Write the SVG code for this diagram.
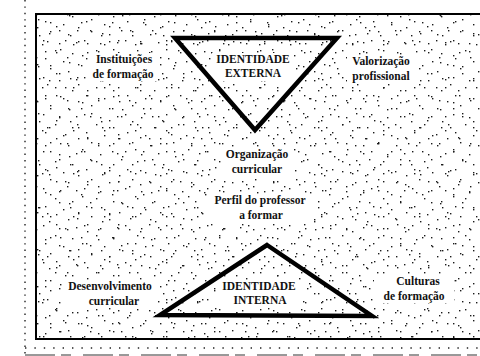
<svg xmlns="http://www.w3.org/2000/svg" width="480" height="356" viewBox="0 0 480 356">
<defs>
<pattern id="s1" x="0" y="0" width="41" height="37" patternUnits="userSpaceOnUse">
<g fill="#1a1a1a">
<rect x="2" y="3" width="1.4" height="1.4"/><rect x="18" y="6" width="1.4" height="1.4"/><rect x="35" y="5" width="1.4" height="1.4"/>
<rect x="14" y="13" width="1.4" height="1.4"/><rect x="31" y="16" width="1.4" height="1.4"/><rect x="4" y="21" width="1.4" height="1.4"/>
<rect x="22" y="24" width="1.4" height="1.4"/><rect x="37" y="27" width="1.4" height="1.4"/><rect x="9" y="31" width="1.4" height="1.4"/>
<rect x="27" y="34" width="1.4" height="1.4"/>
</g>
</pattern>
<pattern id="s2" x="0" y="0" width="53" height="47" patternUnits="userSpaceOnUse">
<g fill="#1a1a1a">
<rect x="7" y="2" width="1.4" height="1.4"/><rect x="29" y="8" width="1.4" height="1.4"/><rect x="45" y="4" width="1.4" height="1.4"/>
<rect x="16" y="15" width="1.4" height="1.4"/><rect x="38" y="19" width="1.4" height="1.4"/><rect x="3" y="26" width="1.4" height="1.4"/>
<rect x="24" y="30" width="1.4" height="1.4"/><rect x="49" y="33" width="1.4" height="1.4"/><rect x="12" y="40" width="1.4" height="1.4"/>
<rect x="34" y="43" width="1.4" height="1.4"/>
</g>
</pattern>
<pattern id="s3" x="0" y="0" width="31" height="43" patternUnits="userSpaceOnUse">
<g fill="#1a1a1a">
<rect x="11" y="1" width="1.4" height="1.4"/><rect x="25" y="9" width="1.4" height="1.4"/><rect x="5" y="14" width="1.4" height="1.4"/>
<rect x="19" y="22" width="1.4" height="1.4"/><rect x="28" y="30" width="1.4" height="1.4"/><rect x="8" y="35" width="1.4" height="1.4"/>
<rect x="16" y="41" width="1.4" height="1.4"/>
</g>
</pattern>
<style>
.lbl{font-family:"Liberation Serif","Times New Roman",serif;font-size:11.5px;font-weight:bold;fill:#111;text-anchor:middle}
.id{font-family:"Liberation Serif","Times New Roman",serif;font-size:11.5px;font-weight:bold;fill:#111;text-anchor:middle}
.tri{fill:none;stroke:#000;stroke-width:4.5;stroke-linejoin:miter}
.bg{fill:#fff}
</style>
</defs>
<rect width="480" height="356" fill="#fff"/>
<line x1="25" y1="0" x2="25" y2="356" stroke="#222" stroke-width="1.4" stroke-dasharray="1.4,5"/>
<line x1="25" y1="348" x2="480" y2="348" stroke="#222" stroke-width="1.4" stroke-dasharray="1.4,8"/>
<line x1="25" y1="355" x2="480" y2="355" stroke="#333" stroke-width="1" stroke-dasharray="30,6,10,12"/>
<g id="frame">
<rect x="36" y="14" width="460" height="325" fill="#fff"/>
<rect x="36" y="14" width="460" height="325" fill="url(#s1)"/>
<rect x="36" y="14" width="460" height="325" fill="url(#s2)"/>
<rect x="36" y="14" width="460" height="325" fill="url(#s3)"/>
<rect x="36" y="14" width="460" height="325" fill="none" stroke="#000" stroke-width="2"/>
</g>
<g id="connectors"></g>
<g id="identidade-externa">
<rect class="bg" x="212" y="53" width="82" height="28"/>
<polygon class="tri" points="175,38 337,38 255,130"/>
<text class="id" x="253" y="63">IDENTIDADE</text>
<text class="id" x="253" y="77">EXTERNA</text>
</g>
<g id="identidade-interna">
<rect class="bg" x="218" y="280" width="82" height="28"/>
<polygon class="tri" points="267,245 372,316 160,315"/>
<text class="id" x="259" y="290">IDENTIDADE</text>
<text class="id" x="260" y="304">INTERNA</text>
</g>
<g id="instituicoes">
<rect class="bg" x="90" y="53" width="68" height="28"/>
<text class="lbl" x="124" y="63">Instituições</text>
<text class="lbl" x="123" y="78">de formação</text>
</g>
<g id="valorizacao">
<rect class="bg" x="347" y="55" width="70" height="28"/>
<text class="lbl" x="381" y="65">Valorização</text>
<text class="lbl" x="381" y="80">profissional</text>
</g>
<g id="organizacao">
<rect class="bg" x="221" y="148" width="72" height="29"/>
<text class="lbl" x="257" y="158">Organização</text>
<text class="lbl" x="257" y="173">curricular</text>
</g>
<g id="perfil">
<rect class="bg" x="207" y="194" width="106" height="29"/>
<text class="lbl" x="260" y="204">Perfil do professor</text>
<text class="lbl" x="261" y="219">a formar</text>
</g>
<g id="desenvolvimento">
<rect class="bg" x="62" y="280" width="96" height="28"/>
<text class="lbl" x="110" y="290">Desenvolvimento</text>
<text class="lbl" x="114" y="305">curricular</text>
</g>
<g id="culturas">
<rect class="bg" x="374" y="275" width="80" height="28"/>
<text class="lbl" x="418" y="285">Culturas</text>
<text class="lbl" x="414" y="300">de formação</text>
</g>
</svg>
